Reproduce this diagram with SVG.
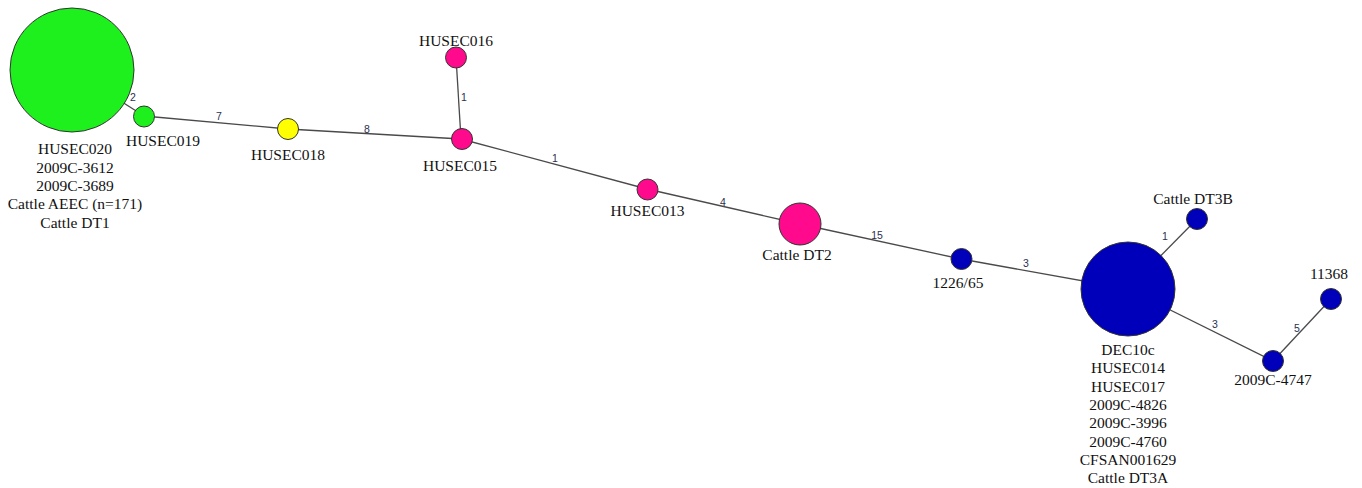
<svg xmlns="http://www.w3.org/2000/svg" width="1362" height="488" viewBox="0 0 1362 488">
<style>
.edge{stroke:#4a4a4a;stroke-width:1.3;fill:none}
.node{stroke:#333;stroke-width:1}
.g{fill:#1ef01e}.y{fill:#ffff00}.p{fill:#ff0a8c}.b{fill:#0000bb}
.lbl{font-family:"Liberation Serif","Times New Roman",serif;font-size:15.5px;fill:#111;text-anchor:middle}
.el{font-family:"Liberation Sans",Arial,sans-serif;font-size:10.5px;fill:#2b3050;text-anchor:middle}
</style>
<rect width="1362" height="488" fill="#fff"/>
<g id="connectors">
<line class="edge" x1="72" y1="70" x2="144" y2="116"/>
<line class="edge" x1="144" y1="116" x2="288" y2="129"/>
<line class="edge" x1="288" y1="129" x2="461" y2="139"/>
<line class="edge" x1="461" y1="139" x2="456" y2="57"/>
<line class="edge" x1="461" y1="139" x2="647" y2="189"/>
<line class="edge" x1="647" y1="189" x2="800" y2="224"/>
<line class="edge" x1="800" y1="224" x2="961" y2="259"/>
<line class="edge" x1="961" y1="259" x2="1128" y2="289"/>
<line class="edge" x1="1128" y1="289" x2="1197" y2="219"/>
<line class="edge" x1="1128" y1="289" x2="1273" y2="361"/>
<line class="edge" x1="1273" y1="361" x2="1331" y2="299"/>
<text class="el" x="133" y="101">2</text>
<text class="el" x="219" y="120">7</text>
<text class="el" x="367" y="133">8</text>
<text class="el" x="464" y="101">1</text>
<text class="el" x="555" y="162">1</text>
<text class="el" x="723" y="206">4</text>
<text class="el" x="877" y="239">15</text>
<text class="el" x="1026" y="267">3</text>
<text class="el" x="1165" y="240">1</text>
<text class="el" x="1215" y="328">3</text>
<text class="el" x="1297" y="332">5</text>
</g>
<g id="n-green-big">
<circle class="node g" cx="72" cy="70" r="62"/>
<text class="lbl" x="75" y="154">HUSEC020</text>
<text class="lbl" x="75" y="172.5">2009C-3612</text>
<text class="lbl" x="75" y="191">2009C-3689</text>
<text class="lbl" x="75" y="209">Cattle AEEC (n=171)</text>
<text class="lbl" x="75" y="227.5">Cattle DT1</text>
</g>
<g id="n-HUSEC019">
<circle class="node g" cx="144" cy="116.5" r="10.5"/>
<text class="lbl" x="163" y="146">HUSEC019</text>
</g>
<g id="n-HUSEC018">
<circle class="node y" cx="288" cy="129" r="10.5"/>
<text class="lbl" x="288" y="160">HUSEC018</text>
</g>
<g id="n-HUSEC016">
<circle class="node p" cx="456" cy="57.5" r="10.5"/>
<text class="lbl" x="456" y="46">HUSEC016</text>
</g>
<g id="n-HUSEC015">
<circle class="node p" cx="462" cy="139" r="10.5"/>
<text class="lbl" x="460" y="171">HUSEC015</text>
</g>
<g id="n-HUSEC013">
<circle class="node p" cx="647.5" cy="189.5" r="10.5"/>
<text class="lbl" x="647.5" y="216">HUSEC013</text>
</g>
<g id="n-CattleDT2">
<circle class="node p" cx="800" cy="224" r="21"/>
<text class="lbl" x="797" y="260">Cattle DT2</text>
</g>
<g id="n-1226-65">
<circle class="node b" cx="961.5" cy="259" r="10.5"/>
<text class="lbl" x="958" y="288">1226/65</text>
</g>
<g id="n-blue-big">
<circle class="node b" cx="1128" cy="289" r="47"/>
<text class="lbl" x="1128" y="355">DEC10c</text>
<text class="lbl" x="1128" y="373.3">HUSEC014</text>
<text class="lbl" x="1128" y="391.6">HUSEC017</text>
<text class="lbl" x="1128" y="410">2009C-4826</text>
<text class="lbl" x="1128" y="428.3">2009C-3996</text>
<text class="lbl" x="1128" y="446.6">2009C-4760</text>
<text class="lbl" x="1128" y="465">CFSAN001629</text>
<text class="lbl" x="1128" y="483">Cattle DT3A</text>
</g>
<g id="n-CattleDT3B">
<circle class="node b" cx="1197" cy="219" r="10.5"/>
<text class="lbl" x="1193" y="204">Cattle DT3B</text>
</g>
<g id="n-11368">
<circle class="node b" cx="1331" cy="299" r="10.5"/>
<text class="lbl" x="1329" y="279">11368</text>
</g>
<g id="n-2009C-4747">
<circle class="node b" cx="1273" cy="361" r="10.5"/>
<text class="lbl" x="1273" y="385">2009C-4747</text>
</g>
</svg>
